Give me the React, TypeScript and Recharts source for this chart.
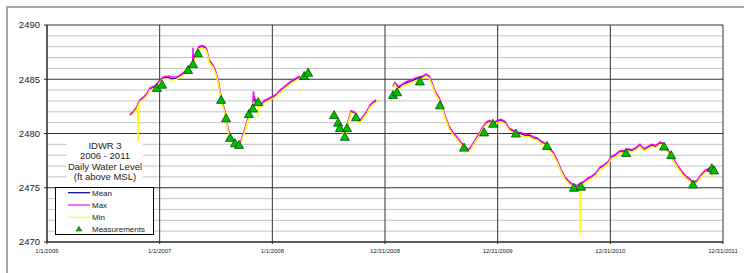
import { ComposedChart, Line, Scatter, XAxis, YAxis, CartesianGrid } from "recharts";

const FONT = '"Liberation Sans", Arial, sans-serif';

// daily record, sampled; null rows break the line where the logger had gaps
const levelDates = [
  "2006-09-27", "2006-10-07", "2006-10-20", "2006-10-22", "2006-10-23", "2006-10-24", "2006-10-29", "2006-11-11", "2006-11-21", "2006-12-01",
  "2006-12-17", "2007-01-02", "2007-01-12", "2007-01-28", "2007-02-10", "2007-02-26", "2007-03-14", "2007-03-31", "2007-04-09", "2007-04-18",
  "2007-04-19", "2007-04-20", "2007-04-29", "2007-05-08", "2007-05-18", "2007-05-28", "2007-06-03", "2007-06-10", "2007-06-23", "2007-07-02",
  "2007-07-09", "2007-07-19", "2007-07-28", "2007-08-04", "2007-08-10", "2007-08-20", "2007-09-02", "2007-09-18", "2007-09-28", "2007-10-08",
  "2007-10-17", "2007-10-27", "2007-10-31", "2007-11-01", "2007-11-02", "2007-11-09", "2007-11-14", "2007-11-15", "2007-11-16", "2007-11-25",
  "2007-12-05", "2007-12-18", "2007-12-31", "2008-01-13", "2008-01-26", "2008-02-08", "2008-02-21", "2008-03-05", "2008-03-18", "2008-03-31",
  "2008-06-01",
  "2008-08-14", "2008-08-23", "2008-09-02", "2008-09-12", "2008-09-22", "2008-10-01", "2008-10-11", "2008-10-21", "2008-11-03", "2008-11-12",
  "2008-11-22", "2008-12-02",
  "2009-01-01",
  "2009-01-26", "2009-02-01", "2009-02-14", "2009-02-27", "2009-03-12", "2009-03-25", "2009-04-07", "2009-04-20", "2009-05-03", "2009-05-13",
  "2009-05-23", "2009-06-01", "2009-06-11", "2009-06-24", "2009-07-04", "2009-07-13", "2009-07-26", "2009-08-08", "2009-08-21", "2009-09-03",
  "2009-09-16", "2009-09-26", "2009-10-06", "2009-10-19", "2009-11-01", "2009-11-13", "2009-11-26", "2009-12-06", "2009-12-16", "2009-12-29",
  "2010-01-11", "2010-01-24", "2010-02-06", "2010-02-19", "2010-03-04", "2010-03-17", "2010-03-30", "2010-04-12", "2010-04-25", "2010-05-08",
  "2010-05-21", "2010-06-03", "2010-06-15", "2010-06-28", "2010-07-11", "2010-07-24", "2010-08-06", "2010-08-19", "2010-09-01", "2010-09-14",
  "2010-09-23", "2010-09-24", "2010-09-25", "2010-10-07", "2010-10-20", "2010-11-02", "2010-11-15", "2010-11-28", "2010-12-10", "2010-12-23",
  "2011-01-05", "2011-01-18", "2011-01-31", "2011-02-13", "2011-02-26", "2011-03-11", "2011-03-24", "2011-04-06", "2011-04-19", "2011-05-02",
  "2011-05-15", "2011-05-28", "2011-06-10", "2011-06-20", "2011-06-29", "2011-07-12", "2011-07-25", "2011-08-07", "2011-08-20", "2011-09-02",
  "2011-09-15", "2011-09-25", "2011-10-08", "2011-10-21", "2011-11-03", "2011-11-16", "2011-11-24", "2011-11-25", "2011-11-26", "2011-12-05",
];

const meanLevel = [
  2481.7, 2481.9, 2482.4, 2482.6, 2482.6, 2482.7, 2483.0, 2483.3, 2483.6, 2484.1,
  2484.3, 2484.8, 2485.1, 2485.2, 2485.0, 2485.1, 2485.4, 2485.8, 2486.1, 2486.4,
  2486.5, 2486.6, 2487.2, 2487.9, 2488.0, 2487.9, 2487.6, 2486.7, 2486.2, 2485.6,
  2484.9, 2483.3, 2482.3, 2481.6, 2480.4, 2479.6, 2479.1, 2478.9, 2479.8, 2480.7,
  2481.6, 2482.4, 2482.8, 2483.3, 2483.2, 2482.9, 2482.8, 2482.7, 2482.7, 2482.6,
  2482.9, 2483.1, 2483.3, 2483.5, 2483.9, 2484.2, 2484.5, 2484.8, 2485.0, 2485.2,
  null,
  2480.4, 2479.7, 2481.0, 2482.0, 2481.9, 2481.3, 2481.1, 2481.5, 2482.0, 2482.5,
  2482.8, 2483.0,
  null,
  2484.3, 2484.6, 2484.2, 2484.5, 2484.7, 2484.8, 2485.0, 2485.1, 2485.2, 2485.4,
  2485.2, 2484.6, 2483.8, 2483.2, 2482.5, 2481.6, 2480.6, 2480.0, 2479.6, 2479.1,
  2478.7, 2478.4, 2478.7, 2479.3, 2479.9, 2480.5, 2481.0, 2481.1, 2480.8, 2481.1,
  2481.2, 2481.0, 2480.4, 2480.2, 2480.0, 2480.0, 2479.8, 2479.8, 2479.6, 2479.5,
  2479.2, 2479.0, 2478.6, 2478.2, 2477.5, 2476.6, 2475.9, 2475.5, 2475.2, 2475.1,
  2475.3, 2475.3, 2475.3, 2475.5, 2475.8, 2476.0, 2476.3, 2476.8, 2477.0, 2477.3,
  2477.8, 2478.0, 2478.3, 2478.3, 2478.5, 2478.4, 2478.6, 2478.9, 2478.5, 2478.7,
  2478.9, 2478.8, 2479.1, 2479.0, 2478.6, 2478.1, 2477.5, 2476.9, 2476.4, 2476.0,
  2475.7, 2475.4, 2475.6, 2476.1, 2476.5, 2476.7, 2476.8, 2476.8, 2476.8, 2476.7,
];

const maxLevel = [
  2481.8, 2482.0, 2482.5, 2482.7, 2482.7, 2482.8, 2483.1, 2483.4, 2483.7, 2484.2,
  2484.4, 2484.9, 2485.2, 2485.3, 2485.2, 2485.2, 2485.5, 2485.9, 2486.2, 2486.5,
  2487.9, 2486.7, 2487.3, 2488.0, 2488.1, 2488.0, 2487.7, 2486.8, 2486.3, 2485.7,
  2485.0, 2483.4, 2482.4, 2481.7, 2480.5, 2479.7, 2479.2, 2479.0, 2479.9, 2480.8,
  2481.7, 2482.5, 2482.9, 2483.9, 2483.5, 2483.0, 2482.9, 2482.8, 2482.8, 2482.7,
  2483.0, 2483.2, 2483.4, 2483.6, 2484.0, 2484.3, 2484.6, 2484.9, 2485.1, 2485.3,
  null,
  2480.5, 2479.8, 2481.1, 2482.1, 2482.0, 2481.4, 2481.2, 2481.6, 2482.1, 2482.6,
  2482.9, 2483.1,
  null,
  2484.4, 2484.7, 2484.3, 2484.6, 2484.8, 2484.9, 2485.1, 2485.2, 2485.3, 2485.5,
  2485.3, 2484.7, 2483.9, 2483.3, 2482.6, 2481.7, 2480.7, 2480.1, 2479.7, 2479.2,
  2478.8, 2478.5, 2478.8, 2479.4, 2480.0, 2480.6, 2481.1, 2481.2, 2480.9, 2481.2,
  2481.3, 2481.1, 2480.5, 2480.3, 2480.1, 2480.1, 2479.9, 2479.9, 2479.7, 2479.6,
  2479.3, 2479.1, 2478.7, 2478.3, 2477.6, 2476.7, 2476.0, 2475.6, 2475.3, 2475.2,
  2475.4, 2475.4, 2475.4, 2475.6, 2475.9, 2476.1, 2476.4, 2476.9, 2477.1, 2477.4,
  2477.9, 2478.1, 2478.4, 2478.4, 2478.6, 2478.5, 2478.7, 2479.0, 2478.6, 2478.8,
  2479.0, 2478.9, 2479.2, 2479.1, 2478.7, 2478.2, 2477.6, 2477.0, 2476.5, 2476.1,
  2475.8, 2475.5, 2475.7, 2476.2, 2476.6, 2476.8, 2476.9, 2476.9, 2476.9, 2476.8,
];

const minLevel = [
  2481.6, 2481.8, 2482.3, 2482.5, 2479.2, 2482.6, 2482.9, 2483.2, 2483.5, 2484.0,
  2484.2, 2484.7, 2485.0, 2485.0, 2484.9, 2485.0, 2485.3, 2485.7, 2486.0, 2486.3,
  2486.4, 2486.5, 2487.1, 2487.8, 2487.9, 2487.8, 2487.5, 2486.6, 2486.1, 2485.5,
  2484.8, 2483.2, 2482.2, 2481.5, 2480.3, 2479.5, 2479.0, 2478.8, 2479.7, 2480.6,
  2481.5, 2482.3, 2482.7, 2482.8, 2482.8, 2482.7, 2482.7, 2481.5, 2482.6, 2482.5,
  2482.8, 2483.0, 2483.2, 2483.4, 2483.8, 2484.1, 2484.4, 2484.7, 2484.9, 2485.1,
  null,
  2480.3, 2479.6, 2480.9, 2481.9, 2481.8, 2481.2, 2481.0, 2481.4, 2481.9, 2482.4,
  2482.7, 2482.9,
  null,
  2484.2, 2484.5, 2484.0, 2484.4, 2484.5, 2484.7, 2484.8, 2485.0, 2485.1, 2485.3,
  2485.1, 2484.5, 2483.7, 2483.1, 2482.4, 2481.5, 2480.5, 2479.9, 2479.5, 2479.0,
  2478.6, 2478.3, 2478.6, 2479.2, 2479.8, 2480.4, 2480.9, 2481.0, 2480.7, 2481.0,
  2481.1, 2480.9, 2480.3, 2480.1, 2479.9, 2479.8, 2479.7, 2479.7, 2479.5, 2479.4,
  2479.1, 2478.9, 2478.5, 2478.1, 2477.4, 2476.5, 2475.8, 2475.4, 2475.1, 2475.0,
  2475.2, 2470.8, 2475.2, 2475.4, 2475.7, 2475.9, 2476.2, 2476.7, 2476.9, 2477.2,
  2477.7, 2477.9, 2478.2, 2478.2, 2478.4, 2478.3, 2478.5, 2478.8, 2478.4, 2478.6,
  2478.8, 2478.7, 2479.0, 2478.9, 2478.5, 2478.0, 2477.4, 2476.8, 2476.3, 2475.9,
  2475.6, 2475.3, 2475.5, 2476.0, 2476.4, 2476.6, 2476.7, 2475.9, 2476.7, 2476.6,
];

const measureDates = [
  "2006-12-23", "2007-01-09", "2007-04-03", "2007-04-19", "2007-05-05", "2007-07-19", "2007-08-04", "2007-08-17", "2007-09-02", "2007-09-15",
  "2007-10-17", "2007-10-30", "2007-11-16", "2008-04-13", "2008-04-26", "2008-07-19", "2008-08-01", "2008-08-07", "2008-08-23", "2008-08-30",
  "2008-09-28", "2009-01-26", "2009-02-08", "2009-04-23", "2009-06-27", "2009-09-13", "2009-11-17", "2009-12-16", "2010-02-28", "2010-06-09",
  "2010-09-04", "2010-09-27", "2011-02-20", "2011-06-23", "2011-07-16", "2011-09-25", "2011-11-25", "2011-12-02",
];
const measureLevel = [
  2484.2, 2484.5, 2485.85, 2486.4, 2487.4, 2483.1, 2481.4, 2479.6, 2479.1, 2478.95,
  2481.8, 2482.3, 2482.9, 2485.3, 2485.6, 2481.7, 2481.0, 2480.5, 2479.7, 2480.5,
  2481.5, 2483.55, 2483.8, 2484.8, 2482.6, 2478.7, 2480.1, 2480.9, 2480.0, 2478.85,
  2475.0, 2475.1, 2478.2, 2478.8, 2478.0, 2475.3, 2476.8, 2476.6,
];

const xTickDates = ["2006-01-01", "2007-01-01", "2008-01-01", "2008-12-31", "2009-12-31", "2010-12-31", "2011-12-31"];
const xTickLabels = ["1/1/2006", "1/1/2007", "1/1/2008", "12/31/2008", "12/31/2009", "12/31/2010", "12/31/2011"];
const yTicks = [2470, 2475, 2480, 2485, 2490];
const minorGrid = [2471, 2472, 2473, 2474, 2476, 2477, 2478, 2479, 2481, 2482, 2483, 2484, 2486, 2487, 2488, 2489];

const titleLines = ["IDWR 3", "2006 - 2011", "Daily Water Level", "(ft above MSL)"];

const dayOf = (s: string) => {
  const [y, m, d] = s.split("-").map(Number);
  return (Date.UTC(y, m - 1, d) - Date.UTC(2006, 0, 1)) / 86400000;
};

const levelRows = levelDates.map((d, i) => ({ t: dayOf(d), mean: meanLevel[i], max: maxLevel[i], min: minLevel[i] }));
const measureRows = measureDates.map((d, i) => ({ t: dayOf(d), level: measureLevel[i] }));
const xTicks = xTickDates.map(dayOf);
const labelAt = new Map(xTicks.map((t, i) => [t, xTickLabels[i]]));

function Triangle(props: any) {
  const { cx, cy } = props;
  if (cx == null || cy == null) return null;
  return (
    <path
      d={`M${cx},${cy - 4.5} L${cx + 4.5},${cy + 3.5} L${cx - 4.5},${cy + 3.5} Z`}
      fill="#00c000"
      stroke="#004d00"
      strokeWidth={0.8}
    />
  );
}

const legendItems = [
  { name: "Mean", color: "#000080" },
  { name: "Max", color: "#ff00ff" },
  { name: "Min", color: "#ffff00" },
];

export default function App() {
  return (
    <div style={{ position: "absolute", left: 0, top: 0, width: 744, height: 273, background: "#fff", fontFamily: FONT }}>
      <div
        style={{
          position: "absolute", left: 6, top: 6, width: 738, height: 267,
          borderTop: "2px solid #a6a6a6", borderLeft: "2px solid #a6a6a6",
        }}
      />
      <ComposedChart
        width={744}
        height={273}
        data={levelRows}
        margin={{ top: 25, right: 21, bottom: 11, left: 0 }}
        style={{ position: "absolute", left: 0, top: 0 }}
      >
        <CartesianGrid horizontalValues={minorGrid} vertical={false} stroke="#c4c4c4" />
        <CartesianGrid stroke="#333" />
        <XAxis
          type="number"
          dataKey="t"
          domain={[0, 2190]}
          ticks={xTicks}
          interval={0}
          allowDataOverflow
          tickFormatter={(v) => labelAt.get(v) ?? ""}
          height={20}
          tickSize={2}
          tickMargin={5}
          axisLine={{ stroke: "#222" }}
          tickLine={{ stroke: "#222" }}
          tick={{ fontSize: 6, fill: "#222", fontFamily: FONT }}
        />
        <YAxis
          type="number"
          domain={[2470, 2490]}
          ticks={yTicks}
          interval={0}
          allowDataOverflow
          width={47}
          tickSize={3}
          tickMargin={4}
          axisLine={{ stroke: "#222" }}
          tickLine={{ stroke: "#222" }}
          tick={{ fontSize: 9.5, fill: "#222", fontFamily: FONT }}
        />
        <Line dataKey="mean" stroke="#000080" strokeWidth={1.3} dot={false} activeDot={false} connectNulls={false} isAnimationActive={false} />
        <Line dataKey="max" stroke="#ff00ff" strokeWidth={1.5} dot={false} activeDot={false} connectNulls={false} isAnimationActive={false} />
        <Line dataKey="min" stroke="#ffff00" strokeWidth={1.5} dot={false} activeDot={false} connectNulls={false} isAnimationActive={false} />
        <Scatter data={measureRows} dataKey="level" shape={<Triangle />} isAnimationActive={false} />
      </ComposedChart>

      <div
        style={{
          position: "absolute", left: 67, top: 141, width: 76, height: 42, background: "#fff",
          textAlign: "center", fontSize: 9.5, lineHeight: "10.4px", color: "#222",
        }}
      >
        {titleLines.map((l) => (
          <div key={l}>{l}</div>
        ))}
      </div>

      <svg width={99} height={48} style={{ position: "absolute", left: 55, top: 187 }}>
        <rect x={0.5} y={0.5} width={98} height={47} fill="#fff" stroke="#000" />
        {legendItems.map((it, i) => (
          <g key={it.name}>
            <line x1={13} x2={35} y1={5.7 + i * 12.3} y2={5.7 + i * 12.3} stroke={it.color} strokeWidth={1.2} />
            <text x={37} y={5.7 + i * 12.3} dy="0.35em" fontSize={8} fill="#222" fontFamily={FONT}>{it.name}</text>
          </g>
        ))}
        <path d="M24,39.3 L26.8,44 L21.2,44 Z" fill="#00c000" stroke="#004d00" strokeWidth={0.6} />
        <text x={37} y={42.3} dy="0.35em" fontSize={8} fill="#222" fontFamily={FONT}>Measurements</text>
      </svg>
    </div>
  );
}
